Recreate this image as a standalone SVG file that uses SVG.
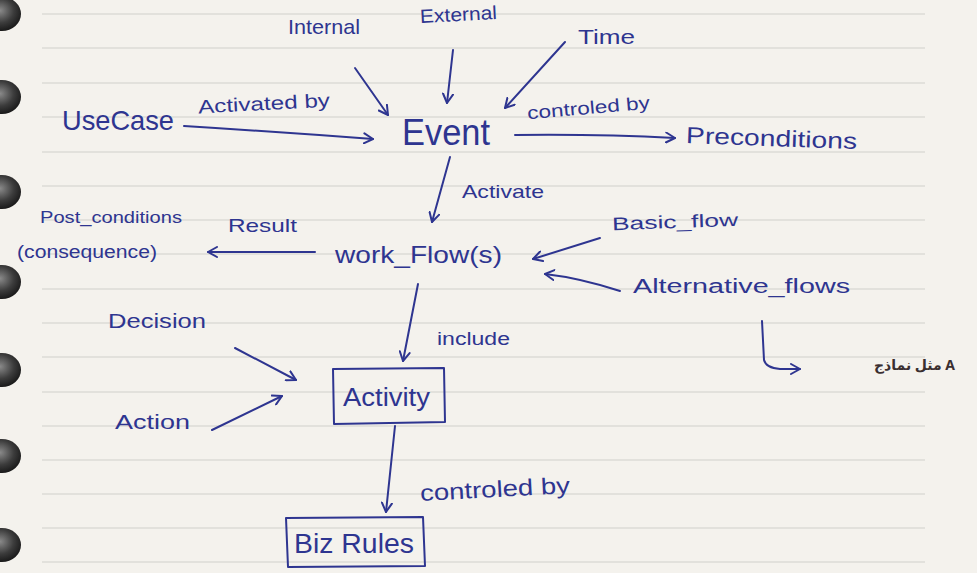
<svg xmlns="http://www.w3.org/2000/svg" width="977" height="573" viewBox="0 0 977 573">
  <style>
    .ink { font-family: "Liberation Sans", "DejaVu Sans", sans-serif; fill: #2e3590; }
    .line { stroke: #2e3590; stroke-width: 2; fill: none; stroke-linecap: round; stroke-linejoin: round; }
    .rule { stroke: #d0cfcb; stroke-width: 1.2; }
  </style>
  <defs>
    <marker id="arrow" viewBox="0 0 12 12" refX="10" refY="6" markerWidth="12" markerHeight="12" markerUnits="userSpaceOnUse" orient="auto">
      <path d="M1,1 L10,6 L1,11" fill="none" stroke="#2e3590" stroke-width="2" stroke-linecap="round" stroke-linejoin="round"/>
    </marker>
    <radialGradient id="ringShade" cx="0.45" cy="0.4" r="0.6">
      <stop offset="0" stop-color="#8a8a8a"/>
      <stop offset="0.6" stop-color="#3c3c3c"/>
      <stop offset="1" stop-color="#1a1a1a"/>
    </radialGradient>
  </defs>

  <!-- paper -->
  <rect width="977" height="573" fill="#f4f2ed"/>
  <g id="rules">
    <line class="rule" x1="42" y1="14" x2="925" y2="14"/>
    <line class="rule" x1="42" y1="48" x2="925" y2="48"/>
    <line class="rule" x1="42" y1="83" x2="925" y2="83"/>
    <line class="rule" x1="42" y1="117" x2="925" y2="117"/>
    <line class="rule" x1="42" y1="152" x2="925" y2="152"/>
    <line class="rule" x1="42" y1="186" x2="925" y2="186"/>
    <line class="rule" x1="42" y1="220" x2="925" y2="220"/>
    <line class="rule" x1="42" y1="254" x2="925" y2="254"/>
    <line class="rule" x1="42" y1="289" x2="925" y2="289"/>
    <line class="rule" x1="42" y1="323" x2="925" y2="323"/>
    <line class="rule" x1="42" y1="357" x2="925" y2="357"/>
    <line class="rule" x1="42" y1="392" x2="925" y2="392"/>
    <line class="rule" x1="42" y1="426" x2="925" y2="426"/>
    <line class="rule" x1="42" y1="460" x2="925" y2="460"/>
    <line class="rule" x1="42" y1="494" x2="925" y2="494"/>
    <line class="rule" x1="42" y1="528" x2="925" y2="528"/>
    <line class="rule" x1="42" y1="562" x2="925" y2="562"/>
  </g>
  <!-- binder rings -->
  <g id="rings" fill="url(#ringShade)">
    <ellipse cx="2" cy="14" rx="19" ry="17"/>
    <ellipse cx="2" cy="97" rx="19" ry="17"/>
    <ellipse cx="2" cy="192" rx="19" ry="17"/>
    <ellipse cx="2" cy="282" rx="19" ry="17"/>
    <ellipse cx="2" cy="370" rx="19" ry="17"/>
    <ellipse cx="2" cy="456" rx="19" ry="17"/>
    <ellipse cx="2" cy="545" rx="19" ry="17"/>
  </g>

  <!-- connectors -->
  <g id="connectors" class="line" marker-end="url(#arrow)">
    <path d="M355,68 L388,115"/>
    <path d="M453,50 L447,103"/>
    <path d="M565,42 L505,108"/>
    <path d="M184,126 Q280,132 373,139"/>
    <path d="M515,135 Q600,134 675,138"/>
    <path d="M450,157 L432,222"/>
    <path d="M315,252 L208,252"/>
    <path d="M600,238 L533,259"/>
    <path d="M620,291 Q580,278 545,274"/>
    <path d="M418,284 L403,361"/>
    <path d="M235,348 L296,380"/>
    <path d="M212,430 L282,396"/>
    <path d="M395,426 L386,512"/>
    <path d="M762,321 L764,360 Q766,368 780,369 L800,369"/>
  </g>

  <!-- nodes -->
  <g id="internal"><text class="ink" x="288" y="34" font-size="21" textLength="72" lengthAdjust="spacingAndGlyphs">Internal</text></g>
  <g id="external"><text class="ink" x="420" y="21" font-size="19" textLength="77" lengthAdjust="spacingAndGlyphs" transform="rotate(-3 458 15)">External</text></g>
  <g id="time"><text class="ink" x="578" y="44" font-size="21" textLength="57" lengthAdjust="spacingAndGlyphs">Time</text></g>
  <g id="usecase"><text class="ink" x="62" y="130" font-size="28" textLength="112" lengthAdjust="spacingAndGlyphs">UseCase</text></g>
  <g id="event"><text class="ink" x="402" y="145" font-size="36" textLength="88" lengthAdjust="spacingAndGlyphs">Event</text></g>
  <g id="preconditions"><text class="ink" x="686" y="146" font-size="23" textLength="171" lengthAdjust="spacingAndGlyphs" transform="rotate(2 770 140)">Preconditions</text></g>
  <g id="postconditions">
    <text class="ink" x="40" y="223" font-size="17" textLength="142" lengthAdjust="spacingAndGlyphs">Post_conditions</text>
    <text class="ink" x="17" y="258" font-size="18" textLength="140" lengthAdjust="spacingAndGlyphs">(consequence)</text>
  </g>
  <g id="workflows"><text class="ink" x="335" y="263" font-size="24" textLength="167" lengthAdjust="spacingAndGlyphs">work_Flow(s)</text></g>
  <g id="basicflow"><text class="ink" x="612" y="228" font-size="18" textLength="126" lengthAdjust="spacingAndGlyphs" transform="rotate(-2 675 222)">Basic_flow</text></g>
  <g id="altflows"><text class="ink" x="633" y="293" font-size="20" textLength="217" lengthAdjust="spacingAndGlyphs">Alternative_flows</text></g>
  <g id="decision"><text class="ink" x="108" y="328" font-size="20" textLength="98" lengthAdjust="spacingAndGlyphs">Decision</text></g>
  <g id="action"><text class="ink" x="115" y="429" font-size="20" textLength="75" lengthAdjust="spacingAndGlyphs">Action</text></g>
  <g id="activity">
    <path class="line" d="M333,369 L444,368 L445,422 L334,424 Z"/>
    <text class="ink" x="343" y="406" font-size="25" textLength="87" lengthAdjust="spacingAndGlyphs">Activity</text>
  </g>
  <g id="bizrules">
    <path class="line" d="M286,518 L423,517 L425,566 L288,567 Z"/>
    <text class="ink" x="294" y="553" font-size="27" textLength="120" lengthAdjust="spacingAndGlyphs">Biz Rules</text>
  </g>
  <g id="note">
    <text x="955" y="370" font-family="'Noto Sans', 'DejaVu Sans', sans-serif" font-size="14" font-weight="bold" fill="#3a2f30" text-anchor="end">مثل نماذج A</text>
  </g>

  <!-- edge labels -->
  <g id="labels">
    <text class="ink" x="198" y="110" font-size="19" textLength="132" lengthAdjust="spacingAndGlyphs" transform="rotate(-3 264 104)">Activated by</text>
    <text class="ink" x="527" y="114" font-size="18" textLength="123" lengthAdjust="spacingAndGlyphs" transform="rotate(-5 588 108)">controled by</text>
    <text class="ink" x="462" y="198" font-size="19" textLength="82" lengthAdjust="spacingAndGlyphs">Activate</text>
    <text class="ink" x="228" y="232" font-size="19" textLength="69" lengthAdjust="spacingAndGlyphs">Result</text>
    <text class="ink" x="437" y="345" font-size="18" textLength="73" lengthAdjust="spacingAndGlyphs">include</text>
    <text class="ink" x="420" y="497" font-size="23" textLength="150" lengthAdjust="spacingAndGlyphs" transform="rotate(-3 495 490)">controled by</text>
  </g>
</svg>
